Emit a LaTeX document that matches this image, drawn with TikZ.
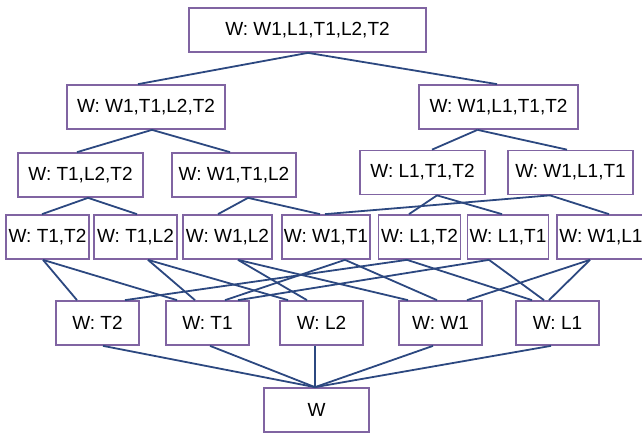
\documentclass[tikz,border=0pt]{standalone}
\usepackage{fontspec}
\setmainfont{Liberation Sans}
\definecolor{boxpurple}{RGB}{128,100,162}
\definecolor{linkblue}{RGB}{44,72,128}
% link from the bottom of one box to the top of another, with horizontal offsets
\newcommand\lnk[4]{\draw[link] ([xshift=#2pt]#1.south) -- ([xshift=#4pt]#3.north);}
\begin{document}
\begin{tikzpicture}[x=1pt,y=-1pt,
  box/.style={draw=boxpurple, line width=1.7pt, fill=white, minimum height=44pt,
    inner sep=0pt, font=\fontsize{19}{22}\selectfont},
  link/.style={draw=linkblue, line width=1.8pt}]
\useasboundingbox (0,0) rectangle (642,432);
\clip (0,0) rectangle (642,432);

% level 1
\node[box, minimum width=237pt] (a) at (307.5,30) {W: W1,L1,T1,L2,T2};
% level 2
\node[box, minimum width=158pt] (bl) at (146,107) {W: W1,T1,L2,T2};
\node[box, minimum width=159pt] (br) at (498.5,107) {W: W1,L1,T1,T2};
% level 3
\node[box, minimum width=125pt] (c1) at (80.5,175) {W: T1,L2,T2};
\node[box, minimum width=124pt] (c2) at (234,175) {W: W1,T1,L2};
\node[box, minimum width=125pt] (c3) at (422.5,172.5) {W: L1,T1,T2};
\node[box, minimum width=125pt] (c4) at (570.5,172.5) {W: W1,L1,T1};
% level 4
\node[box, minimum width=83pt] (d1) at (47.5,237) {W: T1,T2};
\node[box, minimum width=83pt] (d2) at (135.5,237) {W: T1,L2};
\node[box, minimum width=89pt] (d3) at (227.5,237) {W: W1,L2};
\node[box, minimum width=88pt] (d4) at (326,237) {W: W1,T1};
\node[box, minimum width=82pt] (d5) at (419.5,237) {W: L1,T2};
\node[box, minimum width=81pt] (d6) at (508,237) {W: L1,T1};
\node[box, minimum width=88pt] (d7) at (601,237) {W: W1,L1};
% level 5
\node[box, minimum width=83pt] (e1) at (97.5,323) {W: T2};
\node[box, minimum width=83pt] (e2) at (207.5,323) {W: T1};
\node[box, minimum width=83pt] (e3) at (321.5,323) {W: L2};
\node[box, minimum width=83pt] (e4) at (440.5,323) {W: W1};
\node[box, minimum width=83pt] (e5) at (557.5,323) {W: L1};
% level 6
\node[box, minimum width=105pt] (f) at (316.5,410) {W};

% links, level 1 to 2
\lnk{a}{0.5}{bl}{-8}
\lnk{a}{0.5}{br}{-1.5}
% level 2 to 3
\lnk{bl}{6}{c1}{-3.5}
\lnk{bl}{6}{c2}{-4}
\lnk{br}{-21}{c3}{9.5}
\lnk{br}{-21}{c4}{-3.5}
% level 3 to 4
\lnk{c1}{7.5}{d1}{-5.5}
\lnk{c1}{7.5}{d2}{1.5}
\lnk{c2}{14}{d3}{-9.5}
\lnk{c2}{14}{d4}{-6}
\lnk{c3}{14.5}{d5}{-10.5}
\lnk{c3}{14.5}{d6}{-6}
\lnk{c4}{-20.5}{d4}{-1}
\lnk{c4}{-20.5}{d7}{8}
% level 4 to 5
\lnk{d1}{-4.5}{e1}{-20.5}
\lnk{d1}{-4.5}{e2}{-30.5}
\lnk{d2}{12.5}{e2}{-12.5}
\lnk{d2}{12.5}{e3}{-33.5}
\lnk{d3}{10.5}{e3}{-14.5}
\lnk{d3}{10.5}{e4}{-32.5}
\lnk{d4}{19}{e4}{-3.5}
\lnk{d4}{19}{e2}{17.5}
\lnk{d5}{-12.5}{e1}{27.5}
\lnk{d5}{-12.5}{e5}{-25.5}
\lnk{d6}{-19}{e2}{30.5}
\lnk{d6}{-19}{e5}{-13.5}
\lnk{d7}{-11}{e4}{26.5}
\lnk{d7}{-11}{e5}{-8.5}
% level 5 to 6
\lnk{e1}{5.5}{f}{-1.5}
\lnk{e2}{2.5}{f}{-1.5}
\lnk{e3}{-6.5}{f}{-1.5}
\lnk{e4}{-7.5}{f}{-1.5}
\lnk{e5}{-6.5}{f}{-1.5}
\end{tikzpicture}
\end{document}
